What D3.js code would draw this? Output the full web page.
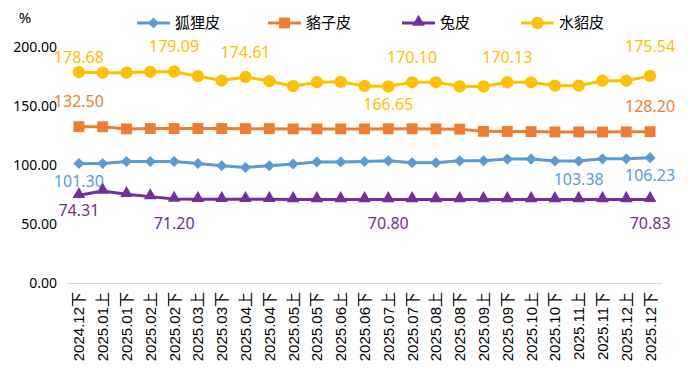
<!DOCTYPE html>
<html>
<head>
<meta charset="utf-8">
<script src="https://cdn.jsdelivr.net/npm/d3@7"></script>
<style>
  body { margin: 0; background: #fff; }
  svg { display: block; }
</style>
</head>
<body>
<div id="chart"></div>
<script>
// categories (half-month periods)
var periods = ["2024.12下","2025.01上","2025.01下","2025.02上","2025.02下","2025.03上","2025.03下",
  "2025.04上","2025.04下","2025.05上","2025.05下","2025.06上","2025.06下","2025.07上","2025.07下",
  "2025.08上","2025.08下","2025.09上","2025.09下","2025.10上","2025.10下","2025.11上","2025.11下",
  "2025.12上","2025.12下"];

// series values
var foxValues = [101.30,101.3,103.0,103.0,103.0,101.3,99.4,97.9,99.4,100.8,102.5,102.5,103.0,
  103.5,102.0,102.0,103.5,103.5,105.0,105.0,103.4,103.38,105.2,105.3,106.23];
var raccoonValues = [132.50,132.4,130.6,130.9,130.9,130.9,130.9,130.8,130.8,130.6,130.6,130.6,130.6,
  130.7,130.7,130.6,130.4,128.5,128.4,128.3,128.0,128.0,127.9,128.1,128.20];
var rabbitValues = [74.31,78.0,75.2,73.2,71.20,71.0,71.0,70.9,70.9,70.8,70.8,70.8,70.8,
  70.80,70.8,70.8,70.8,70.8,70.8,70.8,70.8,70.8,70.8,70.8,70.83];
var minkValues = [178.68,178.2,178.2,179.0,179.09,175.3,171.6,174.61,171.1,166.8,170.2,170.5,167.0,
  166.65,170.10,170.1,166.7,166.6,170.13,170.1,167.2,167.2,171.4,171.4,175.54];

var seriesNames = ["狐狸皮","貉子皮","兔皮","水貂皮"];
var yTicks = [0, 50, 100, 150, 200];

// which points carry a value label
var foxLabelIdx = [0, 21, 24];
var raccoonLabelIdx = [0, 24];
var rabbitLabelIdx = [0, 4, 13, 24];
var minkLabelIdx = [0, 4, 7, 13, 14, 18, 24];

const W = 688, H = 371;
const colors = ["#5B9BD5", "#ED7D31", "#7030A0", "#FFC000"];
const numFont = "'Noto Sans', 'Noto Sans CJK SC', sans-serif";

var svg = d3.select("#chart").append("svg")
  .attr("width", W).attr("height", H);

var x_scale = d3.scaleBand().domain(periods).range([67, 662]).padding(0);
var y_scale = d3.scaleLinear().domain([0, 200]).range([283, 47]);
var cx = d => x_scale(d) + x_scale.bandwidth() / 2;

// zero gridline
svg.append("line")
  .attr("x1", 67).attr("x2", 662)
  .attr("y1", y_scale(0) + 0.5).attr("y2", y_scale(0) + 0.5)
  .attr("stroke", "#d9d9d9").attr("stroke-width", 1);

// y axis labels
svg.append("g").selectAll("text")
  .data(yTicks)
  .join("text")
  .attr("x", 57)
  .attr("y", d => y_scale(d))
  .attr("dy", "0.35em")
  .attr("text-anchor", "end")
  .style("font", "14px " + numFont)
  .attr("fill", "#000")
  .text(d => d.toFixed(2));

svg.append("text")
  .attr("x", 25).attr("y", 18).attr("dy", "0.35em")
  .attr("text-anchor", "middle")
  .style("font", "15px " + numFont)
  .text("%");

// x axis labels, rotated
svg.append("g").selectAll("text")
  .data(periods)
  .join("text")
  .attr("transform", d => "translate(" + cx(d) + ",292) rotate(-90)")
  .attr("text-anchor", "end")
  .attr("dy", "0.36em")
  .style("font", "15px 'Liberation Sans', Arial, 'Noto Sans CJK SC', sans-serif")
  .attr("fill", "#000")
  .text(d => d);

var series = [
  {name: seriesNames[0], values: foxValues, labels: foxLabelIdx, shape: "diamond"},
  {name: seriesNames[1], values: raccoonValues, labels: raccoonLabelIdx, shape: "square"},
  {name: seriesNames[2], values: rabbitValues, labels: rabbitLabelIdx, shape: "triangle"},
  {name: seriesNames[3], values: minkValues, labels: minkLabelIdx, shape: "circle"}
];

function markerPath(shape) {
  if (shape == "diamond") return d3.symbol(d3.symbolSquare, 62)();
  if (shape == "square") return d3.symbol(d3.symbolSquare, 118)();
  if (shape == "triangle") return d3.symbol(d3.symbolTriangle, 70)();
  return d3.symbol(d3.symbolCircle, 118)();
}
function markerTransform(shape, x, y) {
  var t = "translate(" + x + "," + y + ")";
  if (shape == "diamond") t += " rotate(45)";
  if (shape == "triangle") t += " translate(0,-1)";
  return t;
}

var line = d3.line()
  .x((d, i) => cx(periods[i]))
  .y(d => y_scale(d));

// label offsets (dy from point) per series/index
function labelDy(s, i) {
  if (s == 0) return 18;
  if (s == 1) return -25;
  if (s == 2) return i == 0 ? 15 : 24;
  if (i == 0) return -15;
  if (i == 13) return 18;
  if (i == 24) return -29;
  return -25;
}

series.forEach(function (s, si) {
  var g = svg.append("g");
  g.append("path")
    .datum(s.values)
    .attr("d", line)
    .attr("fill", "none")
    .attr("stroke", colors[si])
    .attr("stroke-width", 3)
    .attr("stroke-linejoin", "round");
  g.selectAll("path.mk")
    .data(s.values)
    .join("path")
    .attr("class", "mk")
    .attr("d", markerPath(s.shape))
    .attr("transform", (d, i) => markerTransform(s.shape, cx(periods[i]), y_scale(d)))
    .attr("fill", colors[si]);
  g.selectAll("text")
    .data(s.labels)
    .join("text")
    .attr("x", i => cx(periods[i]))
    .attr("y", i => y_scale(s.values[i]) + labelDy(si, i))
    .attr("dy", "0.35em")
    .attr("text-anchor", "middle")
    .style("font", "16px " + numFont)
    .attr("fill", colors[si])
    .text(i => s.values[i].toFixed(2));
});

// legend
var legendX = [137, 268, 402, 521];
var legend = svg.append("g").selectAll("g")
  .data(series)
  .join("g")
  .attr("transform", (d, i) => "translate(" + legendX[i] + ",23)");
legend.append("line")
  .attr("x1", 0).attr("x2", 33)
  .attr("stroke", (d, i) => colors[i]).attr("stroke-width", 3);
legend.append("path")
  .attr("d", d => markerPath(d.shape))
  .attr("transform", d => markerTransform(d.shape, 16.5, 0))
  .attr("fill", (d, i) => colors[i]);
legend.append("text")
  .attr("x", 38).attr("dy", "0.35em")
  .style("font", "15px 'Noto Sans CJK SC', sans-serif")
  .attr("fill", "#000")
  .text(d => d.name);
</script>
</body>
</html>
